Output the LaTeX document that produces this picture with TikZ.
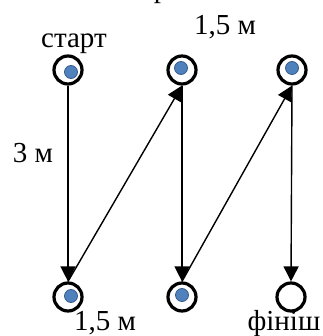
\documentclass[tikz,border=0pt]{standalone}
\usepackage{fontspec}
\setmainfont{Liberation Serif}
\usetikzlibrary{arrows.meta}
\definecolor{dotblue}{RGB}{79,129,189}
\definecolor{dotedge}{RGB}{56,93,138}

\begin{document}
\begin{tikzpicture}[x=1pt,y=-1pt,
  ring/.style={circle,draw,line width=3.2pt,minimum size=28pt,inner sep=0pt},
  move/.style={line width=1.4pt,-{Triangle[length=15pt,width=15pt]}},
  lbl/.style={anchor=base,font=\fontsize{29}{30}\selectfont}]
\useasboundingbox (0,0) rectangle (322,336);
% stations
\foreach \n/\x/\y in {s1/68/70,s2/182/70,s3/292/70,b1/68/297,b2/182/297,b3/291/297}
   \node[ring] (\n) at (\x,\y) {};
\foreach \x/\y in {71/72,181/68,292/68,71/296,182/295}
   \filldraw[fill=dotblue,draw=dotedge,line width=0.8pt] (\x,\y) circle (6.5);
% route
\draw[move] (s1.south) -- (b1.north);
\draw[move] (b1.north) -- (s2.south);
\draw[move] (s2.south) -- (b2.north);
\draw[move] (b2.north) -- (s3.south);
\draw[move] (s3.south) -- (b3.north);
% labels
\node[lbl] (cut) at (161,-2.3) {р};
\node[lbl] (start) at (74,48) {старт};
\node[lbl] (top) at (225,35) {1,5 м};
\node[lbl] (side) at (33,163) {3 м};
\node[lbl] (bottom) at (105,330) {1,5 м};
\node[lbl] (finish) at (284,330) {фініш};
\end{tikzpicture}
\end{document}
